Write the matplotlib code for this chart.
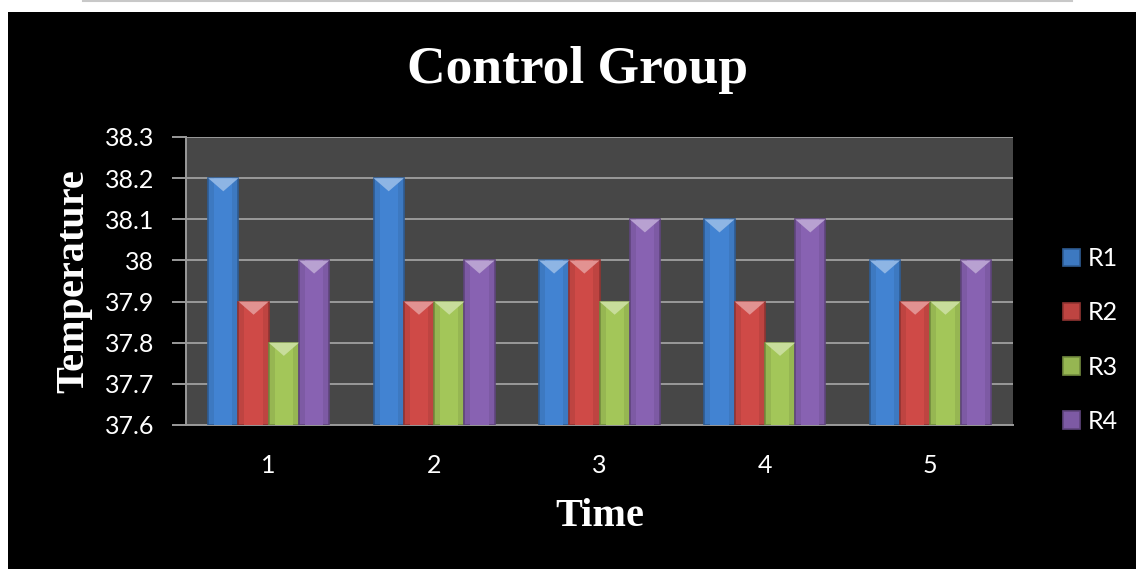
import numpy as np
import matplotlib
matplotlib.use('Agg')
import matplotlib.pyplot as plt
from matplotlib.patches import Rectangle, Polygon
from matplotlib.lines import Line2D
import matplotlib.colors as mcolors

times = [1, 2, 3, 4, 5]
series_names = ['R1', 'R2', 'R3', 'R4']
r1 = [38.2, 38.2, 38.0, 38.1, 38.0]
r2 = [37.9, 37.9, 38.0, 37.9, 37.9]
r3 = [37.8, 37.9, 37.9, 37.8, 37.9]
r4 = [38.0, 38.0, 38.1, 38.1, 38.0]
yticks = [37.6, 37.7, 37.8, 37.9, 38.0, 38.1, 38.2, 38.3]
ytick_labels = ['37.6', '37.7', '37.8', '37.9', '38', '38.1', '38.2', '38.3']

colors = ['#4283d2', '#cf4a47', '#a3c659', '#8862b2']

def lighter(c, f):
  rgb = np.array(mcolors.to_rgb(c))
  return tuple(rgb + (1 - rgb) * f)

def darker(c, f):
  rgb = np.array(mcolors.to_rgb(c))
  return tuple(rgb * (1 - f))

fig = plt.figure(figsize=(11.36, 5.69), dpi=100, facecolor='white')
# black slide background and thin gray line above
fig.patches.append(Rectangle((8 / 1136, 0), 1, 1 - 12 / 569, transform=fig.transFigure,
                             facecolor='black', edgecolor='none', zorder=-5))
fig.lines.append(Line2D([83 / 1136, 1072 / 1136], [1 - 1 / 569, 1 - 1 / 569],
                        transform=fig.transFigure, color='#c8c8c8', lw=1.5))

ax = fig.add_axes([186 / 1136, 1 - 425 / 569, (1013 - 186) / 1136, (425 - 137) / 569])
ax.set_zorder(1)
ax.set_facecolor('#474747')

x = np.array(times, dtype=float)
w = 0.183
data = [r1, r2, r3, r4]
base = 37.6
for i, (vals, c) in enumerate(zip(data, colors)):
  xs = x + (i - 1.5) * w
  bars = ax.bar(xs, np.array(vals) - base, w, bottom=base, color=darker(c, 0.08),
                edgecolor=darker(c, 0.3), linewidth=1.2, label=series_names[i], zorder=3)
  for b in bars:
    x0 = b.get_x()
    bw = b.get_width()
    top = b.get_y() + b.get_height()
    # soft highlight strip in the middle
    ax.add_patch(Rectangle((x0 + bw * 0.2, b.get_y()), bw * 0.6, b.get_height(),
                           facecolor=c, edgecolor='none', zorder=3.5))
    # lighter bevel on top of each bar
    tri = Polygon([[x0, top], [x0 + bw, top], [x0 + bw / 2, top - 0.032]],
                  closed=True, facecolor=lighter(c, 0.4), edgecolor='none', zorder=4)
    ax.add_patch(tri)

ax.set_xlim(0.5, 5.5)
ax.set_ylim(37.6, 38.3)
ax.set_yticks(yticks)
ax.set_yticklabels(ytick_labels)
ax.set_xticks(times)
ax.grid(axis='y', color='#9a9a9a', lw=1.4, zorder=1)
ax.set_axisbelow(True)

for s in ['top', 'right']:
  ax.spines[s].set_visible(False)
for s in ['left', 'bottom']:
  ax.spines[s].set_color('#9a9a9a')
  ax.spines[s].set_linewidth(1.4)
ax.tick_params(axis='y', colors='#9a9a9a', length=10, width=1.4, labelcolor='white',
               labelsize=18, pad=13)
ax.tick_params(axis='x', length=0, labelcolor='white', labelsize=18, pad=21)
for lab in ax.get_xticklabels() + ax.get_yticklabels():
  lab.set_family('Lato')

fig.text(578 / 1136, 1 - 70 / 569, 'Control Group', ha='center', va='center', color='white',
         fontsize=38.5, fontweight='bold', family='Liberation Serif')
ax.set_xlabel('Time', color='white', fontsize=29, fontweight='bold',
              family='Liberation Serif', labelpad=15)
ax.set_ylabel('Temperature', color='white', fontsize=29, fontweight='bold',
              family='Liberation Serif', labelpad=9)

handles, labels = ax.get_legend_handles_labels()
leg = fig.legend(handles, labels, loc='center left', bbox_to_anchor=(1040 / 1136, 1 - 340 / 569),
                 frameon=False, labelspacing=1.25, handlelength=0.7, handleheight=0.7,
                 handletextpad=0.3, prop={'family': 'Lato', 'size': 18})
for t in leg.get_texts():
  t.set_color('white')

fig.savefig('out.png', dpi=100, facecolor=fig.get_facecolor())
